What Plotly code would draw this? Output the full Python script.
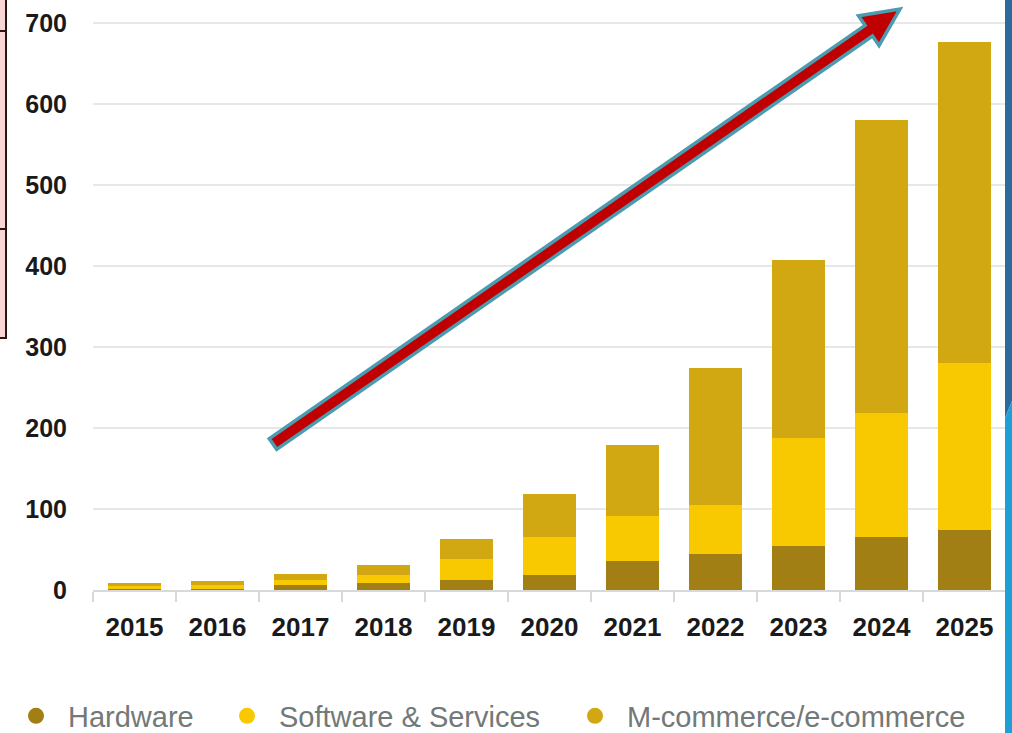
import plotly.graph_objects as go
import math

years = ["2015", "2016", "2017", "2018", "2019", "2020", "2021", "2022", "2023", "2024", "2025"]
hardware = [1.5, 1.5, 6, 8.5, 12, 18, 36, 44, 54, 65, 74]
software = [3, 5, 6, 10, 26, 47, 55, 61, 134, 153, 206]
mcommerce = [4, 4.5, 8, 12, 25, 53, 88, 169, 220, 362, 397]
series_names = ["Hardware", "Software & Services", "M-commerce/e-commerce"]
series_colors = ["#a17f14", "#f8c800", "#d1a812"]
y_ticks = [0, 100, 200, 300, 400, 500, 600, 700]

W, H = 1012, 733
ML, MR, MT, MB = 93, 6, 0, 143
PW, PH = W - ML - MR, H - MT - MB


def px(x):
    return (x - ML) / PW


def py(y):
    return (MT + PH - y) / PH


fig = go.Figure()
for name, vals, col in zip(series_names, [hardware, software, mcommerce], series_colors):
    fig.add_trace(go.Bar(x=years, y=vals, name=name, marker=dict(color=col, line=dict(width=0)),
                         showlegend=False))

legend_ids = ["legend", "legend2", "legend3"]
for name, col, lid in zip(series_names, series_colors, legend_ids):
    fig.add_trace(go.Scatter(x=[years[0]], y=[None], mode="markers", name=name,
                             marker=dict(color=col, size=20, symbol="circle"),
                             showlegend=True, legend=lid))

# arrow decoration (pixel geometry converted to paper coords)
T = (273, 444)
P = (900, 9)
dx, dy = P[0] - T[0], P[1] - T[1]
L = math.hypot(dx, dy)
u = (dx / L, dy / L)
n = (-u[1], u[0])
w, HL, HW = 6.5, 38, 18
B = (P[0] - HL * u[0], P[1] - HL * u[1])
pts = [
    (T[0] + w * n[0], T[1] + w * n[1]),
    (B[0] + w * n[0], B[1] + w * n[1]),
    (B[0] + HW * n[0], B[1] + HW * n[1]),
    P,
    (B[0] - HW * n[0], B[1] - HW * n[1]),
    (B[0] - w * n[0], B[1] - w * n[1]),
    (T[0] - w * n[0], T[1] - w * n[1]),
]
path = "M " + " L ".join(f"{px(a):.5f},{py(b):.5f}" for a, b in pts) + " Z"

shapes = [
    dict(type="path", xref="paper", yref="paper", path=path,
         fillcolor="#c00000", line=dict(color="#4b9bb1", width=3.5), layer="above"),
    # left edge table fragment
    dict(type="rect", xref="paper", yref="paper", x0=px(-2), x1=px(6), y0=py(338), y1=py(-2),
         fillcolor="#f9d6d6", line=dict(width=0), layer="above"),
    dict(type="line", xref="paper", yref="paper", x0=px(6), x1=px(6), y0=py(339), y1=py(-2),
         line=dict(color="#2a1414", width=2)),
    dict(type="line", xref="paper", yref="paper", x0=px(-2), x1=px(6), y0=py(31), y1=py(31),
         line=dict(color="#2a1414", width=2)),
    dict(type="line", xref="paper", yref="paper", x0=px(-2), x1=px(6), y0=py(229), y1=py(229),
         line=dict(color="#2a1414", width=2)),
    dict(type="line", xref="paper", yref="paper", x0=px(-2), x1=px(6), y0=py(338), y1=py(338),
         line=dict(color="#2a1414", width=2)),
    # right edge blue band
    dict(type="path", xref="paper", yref="paper",
         path=f"M {px(1005)},{py(-2)} L {px(1014)},{py(-2)} L {px(1014)},{py(396)} L {px(1005)},{py(418)} Z",
         fillcolor="#2a6b9c", line=dict(width=0), layer="above"),
    dict(type="path", xref="paper", yref="paper",
         path=f"M {px(1005)},{py(418)} L {px(1014)},{py(396)} L {px(1014)},{py(735)} L {px(1005)},{py(735)} Z",
         fillcolor="#1e9fd5", line=dict(width=0), layer="above"),
]

legend_font = dict(family="Liberation Sans", size=29, color="#737878")
leg_common = dict(orientation="h", yanchor="middle", xanchor="left", y=py(716),
                  font=legend_font, bgcolor="rgba(0,0,0,0)", itemwidth=54,
                  itemclick=False, itemdoubleclick=False)

fig.update_layout(
    width=W, height=H,
    margin=dict(l=ML, r=MR, t=MT, b=MB, pad=0, autoexpand=False),
    paper_bgcolor="white", plot_bgcolor="white",
    barmode="stack", bargap=0.36,
    shapes=shapes,
    legend=dict(x=px(4), **leg_common),
    legend2=dict(x=px(215), **leg_common),
    legend3=dict(x=px(563), **leg_common),
    xaxis=dict(type="category", range=[-0.5, 10.5], showgrid=False,
               showline=True, linecolor="#d6dada", linewidth=1.5,
               ticks="outside", tickson="boundaries", ticklen=10, tickwidth=1.5, tickcolor="#d6dada",
               tickfont=dict(family="Liberation Sans", size=26, color="#1a1a1a", weight="bold"),
               ticklabelstandoff=13),
    yaxis=dict(range=[0, PH / 0.81], tickvals=y_ticks, showgrid=True, gridcolor="#e6e8e8", gridwidth=2,
               zeroline=False, showline=False, ticks="",
               tickfont=dict(family="Liberation Sans", size=25, color="#1a1a1a", weight="bold"),
               ticklabelstandoff=25),
)

fig.write_html("out.html", config={"displayModeBar": False},
               post_script="document.body.style.margin='0px';document.body.style.overflow='hidden';")
